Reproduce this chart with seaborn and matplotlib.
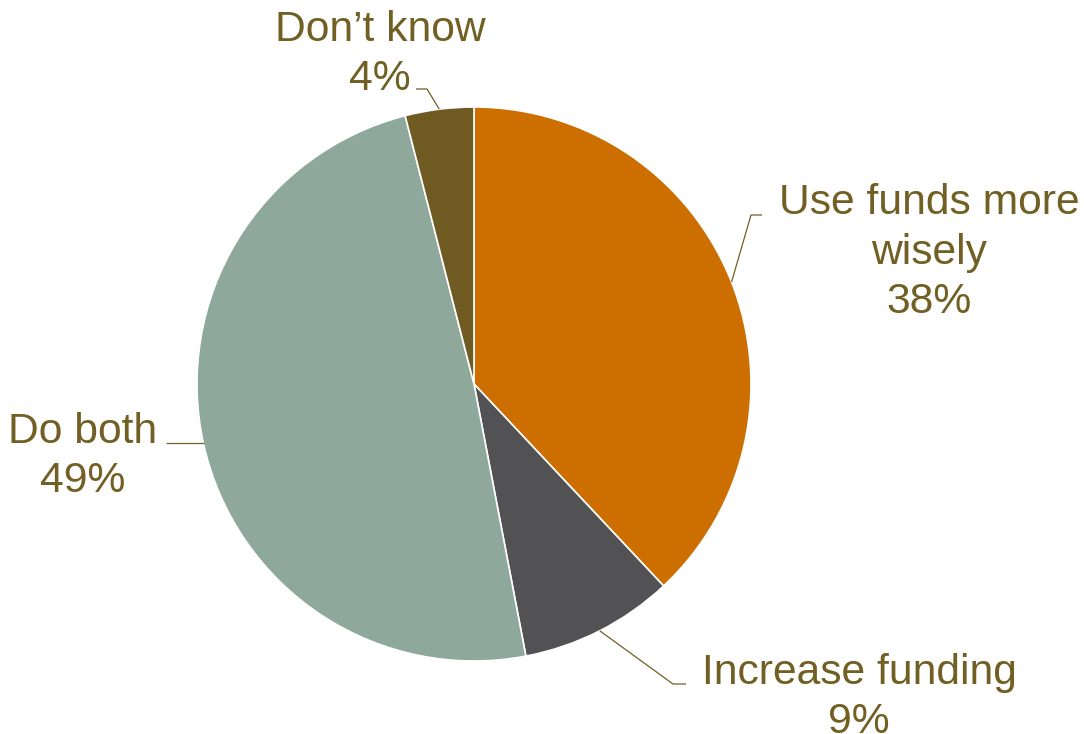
import numpy as np
import matplotlib
matplotlib.use("Agg")
import matplotlib.pyplot as plt
import seaborn as sns

categories = ["Use funds more\nwisely", "Increase funding", "Do both", "Don't know"]
label_text = ["Use funds more\nwisely", "Increase funding", "Do both", "Don\u2019t know"]
values = [38, 9, 49, 4]
colors = ["#CC6F00", "#525254", "#8EA89C", "#6F5B22"]

sns.set_theme(style="white")
plt.rcParams["font.family"] = ["Liberation Sans", "DejaVu Sans"]

W, H = 1084, 734
fig = plt.figure(figsize=(W / 100, H / 100), dpi=100)
ax = fig.add_axes([0, 0, 1, 1])

cx, cy, r = 474, 384, 277
def py(y):
    return H - y

wedges, _ = ax.pie(values, center=(cx, py(cy)), radius=r, startangle=90,
                   counterclock=False, colors=colors,
                   wedgeprops=dict(edgecolor="white", linewidth=1.2))
ax.set_xlim(0, W)
ax.set_ylim(0, H)
ax.set_aspect("equal")
ax.axis("off")

txt_color = "#715F24"
# label layout: (elbow x, elbow y, end x, text x, last-baseline y)
layout = [
    (751, 215, 762, 929, 313),
    (673, 684, 686, 859, 733),
    (None, 443, 166, 83, 492),
    (427, 89, 416, 380, 90),
]
total = sum(values)
cum = 0
for v, lab, (ex, ey, endx, tx, ty) in zip(values, label_text, layout):
    mid = 90 - (cum + v / 2) / total * 360
    cum += v
    x0 = cx + r * np.cos(np.radians(mid))
    y0 = cy - r * np.sin(np.radians(mid))
    if ex is None:
        xs, ys = [x0, endx], [ey, ey]
    else:
        xs, ys = [x0, ex, endx], [y0, ey, ey]
    ax.plot(xs, [py(y) for y in ys], color=txt_color, lw=0.9, solid_capstyle="butt")
    ax.text(tx, py(ty), f"{lab}\n{v}%", ha="center", va="baseline",
            multialignment="center", fontsize=30.7, color=txt_color, linespacing=1.3)

fig.savefig("out.png", dpi=100)
